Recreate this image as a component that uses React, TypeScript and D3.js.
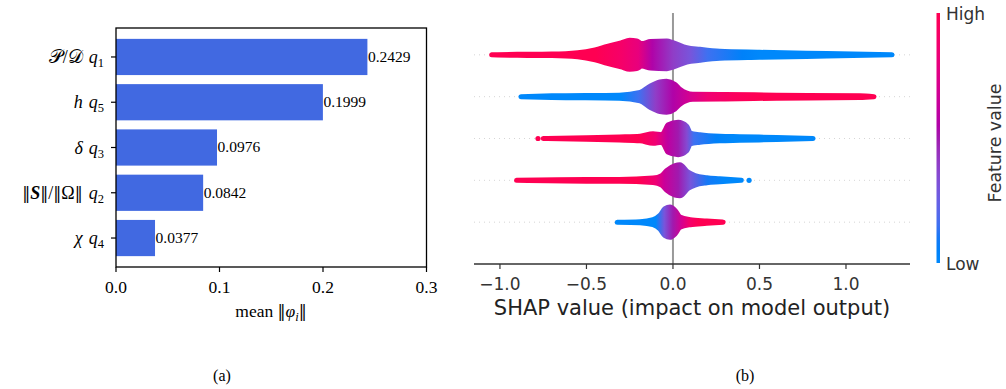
import React from 'react';
import * as d3 from 'd3';

const W = 1006;
const H = 389;

// ---- Panel (a): mean |SHAP| per feature, listed bottom to top ----
const barKeys = ['q4', 'q2', 'q3', 'q5', 'q1'];
const barValues = [0.0377, 0.0842, 0.0976, 0.1999, 0.2429];
const barTicks = [0, 0.1, 0.2, 0.3];

// ---- Panel (b): beeswarm outlines (shap value, spread of dot centres in row units) ----
const q1Shap = [-1.048, -0.9, -0.7, -0.55, -0.45, -0.38, -0.3, -0.25, -0.21, -0.18, -0.13, -0.035, 0, 0.08, 0.155, 0.27, 0.5, 0.89, 1.266];
const q1Spread = [0, 0.012, 0.017, 0.048, 0.12, 0.203, 0.287, 0.347, 0.33, 0.268, 0.316, 0.33, 0.292, 0.172, 0.131, 0.084, 0.06, 0.029, 0];
const q1ColorAt = [-1.05, -0.45, -0.3, -0.2, -0.12, 0, 0.1, 0.2, 0.4, 0.5];
const q1Color = [1, 1, 0.9, 0.8, 0.55, 0.4, 0.3, 0.15, 0.05, 0];

const q5Shap = [-0.879, -0.7, -0.31, -0.19, -0.13, -0.075, -0.037, 0.01, 0.04, 0.115, 0.3, 0.6, 1.08, 1.162];
const q5Spread = [0, 0.019, 0.036, 0.1, 0.258, 0.354, 0.371, 0.299, 0.179, 0.06, 0.053, 0.036, 0.019, 0];
const q5ColorAt = [-0.88, -0.3, -0.2, -0.1, 0, 0.1, 0.2, 0.35, 0.5];
const q5Color = [0, 0, 0.15, 0.4, 0.55, 0.7, 0.85, 0.95, 1];

const q3Shap = [-0.75, -0.5, -0.31, -0.19, -0.115, -0.065, -0.045, -0.03, 0.03, 0.08, 0.1, 0.155, 0.27, 0.387, 0.6, 0.81];
const q3Spread = [0, 0.019, 0.036, 0.053, 0.115, 0.091, 0.2, 0.323, 0.387, 0.292, 0.131, 0.091, 0.053, 0.043, 0.024, 0];
const q3ColorAt = [-0.75, -0.2, -0.1, -0.03, 0.03, 0.08, 0.12, 0.25, 0.35];
const q3Color = [1, 1, 0.85, 0.6, 0.5, 0.35, 0.15, 0.05, 0];

const q2Shap = [-0.904, -0.5, -0.31, -0.115, -0.065, -0.037, 0.012, 0.04, 0.087, 0.127, 0.195, 0.27, 0.395];
const q2Spread = [0, 0.019, 0.019, 0.053, 0.115, 0.234, 0.354, 0.371, 0.196, 0.115, 0.06, 0.036, 0];
const q2ColorAt = [-0.9, -0.2, -0.1, -0.05, 0.03, 0.1, 0.2, 0.3];
const q2Color = [1, 1, 0.85, 0.65, 0.5, 0.3, 0.1, 0];

const q4Shap = [-0.322, -0.19, -0.115, -0.075, -0.046, -0.017, 0.012, 0.04, 0.1, 0.195, 0.29];
const q4Spread = [0, 0.012, 0.06, 0.163, 0.323, 0.363, 0.282, 0.124, 0.06, 0.029, 0];
const q4ColorAt = [-0.32, -0.1, -0.05, 0, 0.05, 0.1, 0.15];
const q4Color = [0, 0, 0.3, 0.5, 0.7, 0.9, 1];

// isolated points beyond the swarms
const outlierRow = ['q3', 'q2'];
const outlierShap = [-0.78, 0.44];
const outlierColor = [1, 0];

const swarmTicks = [-1, -0.5, 0, 0.5, 1];

const swarmRows = [
  { key: 'q1', pos: 4, shap: q1Shap, spread: q1Spread, cAt: q1ColorAt, c: q1Color },
  { key: 'q5', pos: 3, shap: q5Shap, spread: q5Spread, cAt: q5ColorAt, c: q5Color },
  { key: 'q3', pos: 2, shap: q3Shap, spread: q3Spread, cAt: q3ColorAt, c: q3Color },
  { key: 'q2', pos: 1, shap: q2Shap, spread: q2Spread, cAt: q2ColorAt, c: q2Color },
  { key: 'q4', pos: 0, shap: q4Shap, spread: q4Spread, cAt: q4ColorAt, c: q4Color },
];

// shap red_blue colormap: LCh ramp, lightness dipping in the middle
const featureColor = (t: number) => {
  const l = t < 0.5 ? 54 - 28 * t : 40 + 28 * (t - 0.5);
  const c = 70 + 20 * t;
  const h = 266.93 + (380.32 - 266.93) * t;
  return d3.hcl(h, c, l).formatHex();
};

const SERIF = '"Liberation Serif", "DejaVu Serif", serif';
const NORM = '"DejaVu Serif", serif';
const SANS = '"DejaVu Sans", sans-serif';

function Bars({ text }: { text: string }) {
  return (
    <tspan fontFamily={NORM} fontSize={16}>
      {text}
    </tspan>
  );
}

function featureLabel(key: string) {
  const q = (n: string) => (
    <>
      <tspan fontStyle="italic" dx={6}>q</tspan>
      <tspan fontSize={12.5} dy={4}>{n}</tspan>
    </>
  );
  switch (key) {
    case 'q1':
      return (
        <>
          <tspan fontSize={19}>{'𝒫'}</tspan>
          <tspan>{'/'}</tspan>
          <tspan fontSize={19}>{'𝒟'}</tspan>
          {q('1')}
        </>
      );
    case 'q5':
      return (
        <>
          <tspan fontStyle="italic">h</tspan>
          {q('5')}
        </>
      );
    case 'q3':
      return (
        <>
          <tspan fontStyle="italic">δ</tspan>
          {q('3')}
        </>
      );
    case 'q2':
      return (
        <>
          <Bars text="‖" />
          <tspan fontStyle="italic" fontWeight="bold">S</tspan>
          <Bars text="‖" />
          <tspan>/</tspan>
          <Bars text="‖" />
          <tspan>Ω</tspan>
          <Bars text="‖" />
          {q('2')}
        </>
      );
    default:
      return (
        <>
          <tspan fontStyle="italic">χ</tspan>
          {q('4')}
        </>
      );
  }
}

export default function App() {
  // panel (a) scales
  const xA = d3.scaleLinear().domain([0, 0.3]).range([116, 426.5]);
  const yA = d3.scaleLinear().domain([-0.64, 4.64]).range([267, 28]);

  // panel (b) scales
  const xB = d3.scaleLinear().domain([-1.15, 1.37]).range([474, 910]);
  const yB = d3.scaleLinear().domain([-1, 5]).range([264, 13]);
  const rowUnit = yB(0) - yB(1);
  const [gx0, gx1] = xB.range();
  const fmtB = d3.format('.1f');

  const cbTop = 13;
  const cbBottom = 263;
  const cbStops = d3.range(0, 1.0001, 0.05);

  return (
    <svg
      width={W}
      height={H}
      style={{ position: 'absolute', left: 0, top: 0, background: '#fff' }}
      xmlns="http://www.w3.org/2000/svg"
    >
      <defs>
        {swarmRows.map((r) => (
          <linearGradient key={r.key} id={`grad-${r.key}`} gradientUnits="userSpaceOnUse" x1={gx0} x2={gx1} y1={0} y2={0}>
            {r.cAt.map((v, i) => (
              <stop key={i} offset={(xB(v) - gx0) / (gx1 - gx0)} stopColor={featureColor(r.c[i])} />
            ))}
          </linearGradient>
        ))}
        <linearGradient id="cbar" x1={0} x2={0} y1={1} y2={0}>
          {cbStops.map((t, i) => (
            <stop key={i} offset={t} stopColor={featureColor(t)} />
          ))}
        </linearGradient>
      </defs>

      {/* ---------- panel (a) ---------- */}
      <g>
        {barValues.map((v, i) => (
          <rect
            key={barKeys[i]}
            x={xA(0)}
            y={yA(i + 0.4)}
            width={xA(v) - xA(0)}
            height={yA(i - 0.4) - yA(i + 0.4)}
            fill="#4169e1"
          />
        ))}
        {barValues.map((v, i) => (
          <text key={`v${i}`} x={xA(v) + 0.5} y={yA(i) + 4.8} fontFamily={SERIF} fontSize={15.5} fill="#000">
            {v.toFixed(4)}
          </text>
        ))}
        <rect x={xA(0)} y={28} width={xA(0.3) - xA(0)} height={239} fill="none" stroke="#000" strokeWidth={1.3} />
        {barTicks.map((t) => (
          <g key={t}>
            <line x1={xA(t)} x2={xA(t)} y1={267} y2={272} stroke="#000" strokeWidth={1.2} />
            <text x={xA(t)} y={293} textAnchor="middle" fontFamily={SERIF} fontSize={17.5} fill="#000">
              {t.toFixed(1)}
            </text>
          </g>
        ))}
        {barKeys.map((k, i) => (
          <g key={k}>
            <line x1={111} x2={116} y1={yA(i)} y2={yA(i)} stroke="#000" strokeWidth={1.2} />
            <text x={104} y={yA(i) + 6} textAnchor="end" fontFamily={SERIF} fontSize={18} fill="#000">
              {featureLabel(k)}
            </text>
          </g>
        ))}
        <text x={271} y={317} textAnchor="middle" fontFamily={SERIF} fontSize={17.5} fill="#000">
          <tspan>mean </tspan>
          <Bars text="‖" />
          <tspan fontStyle="italic">φ</tspan>
          <tspan fontStyle="italic" fontSize={12.5} dy={4}>i</tspan>
          <tspan dy={-4} fontFamily={NORM} fontSize={16}>‖</tspan>
        </text>
        <text x={222} y={381} textAnchor="middle" fontFamily={SERIF} fontSize={16} fill="#000">
          (a)
        </text>
      </g>

      {/* ---------- panel (b) ---------- */}
      <g>
        {swarmRows.map((r) => (
          <line
            key={`dot-${r.key}`}
            x1={gx0}
            x2={gx1}
            y1={yB(r.pos)}
            y2={yB(r.pos)}
            stroke="#cccccc"
            strokeWidth={0.8}
            strokeDasharray="1 4"
          />
        ))}
        <line x1={xB(0)} x2={xB(0)} y1={yB(5)} y2={yB(-1)} stroke="#999999" strokeWidth={2} />
        {swarmRows.map((r) => {
          const pts = r.shap.map((v, i) => ({ v, s: r.spread[i] }));
          const area = d3
            .area<{ v: number; s: number }>()
            .x((d) => xB(d.v))
            .y0((d) => yB(r.pos) + d.s * rowUnit)
            .y1((d) => yB(r.pos) - d.s * rowUnit)
            .curve(d3.curveMonotoneX);
          return (
            <path
              key={`sw-${r.key}`}
              d={area(pts) || ''}
              fill={`url(#grad-${r.key})`}
              stroke={`url(#grad-${r.key})`}
              strokeWidth={5}
              strokeLinejoin="round"
            />
          );
        })}
        {outlierShap.map((v, i) => {
          const row = swarmRows.find((r) => r.key === outlierRow[i])!;
          return <circle key={`o${i}`} cx={xB(v)} cy={yB(row.pos)} r={2.6} fill={featureColor(outlierColor[i])} />;
        })}
        <line x1={gx0} x2={gx1} y1={264} y2={264} stroke="#333333" strokeWidth={1.3} />
        {swarmTicks.map((t) => (
          <g key={t}>
            <line x1={xB(t)} x2={xB(t)} y1={264} y2={269} stroke="#333333" strokeWidth={1.2} />
            <text x={xB(t)} y={290} textAnchor="middle" fontFamily={SANS} fontSize={17} fill="#333333">
              {fmtB(t)}
            </text>
          </g>
        ))}
        <text x={(gx0 + gx1) / 2} y={315} textAnchor="middle" fontFamily={SANS} fontSize={21} fill="#222">
          SHAP value (impact on model output)
        </text>

        {/* colour bar */}
        <rect x={936.5} y={cbTop} width={3.5} height={cbBottom - cbTop} fill="url(#cbar)" />
        <text x={946} y={20} fontFamily={SANS} fontSize={17} fill="#333333">
          High
        </text>
        <text x={946} y={270} fontFamily={SANS} fontSize={17} fill="#333333">
          Low
        </text>
        <text
          x={994.5}
          y={143}
          transform="rotate(-90 994.5 143)"
          textAnchor="middle"
          dominantBaseline="central"
          fontFamily={SANS}
          fontSize={17.4}
          fill="#333333"
        >
          Feature value
        </text>
        <text x={745} y={381} textAnchor="middle" fontFamily={SERIF} fontSize={16} fill="#000">
          (b)
        </text>
      </g>
    </svg>
  );
}
